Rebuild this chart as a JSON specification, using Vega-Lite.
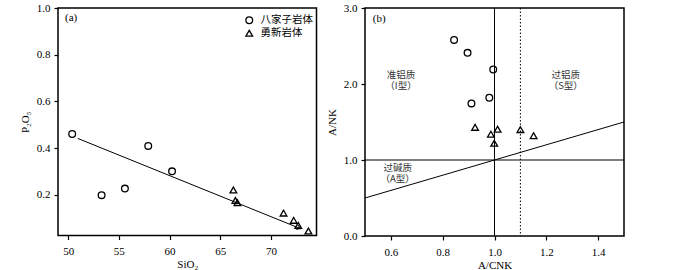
{
  "$schema": "https://vega.github.io/schema/vega-lite/v6.json",
  "background": "white",
  "padding": {"left": 18, "top": 1, "right": 5, "bottom": 0},
  "config": {
    "font": "Liberation Serif",
    "view": {"stroke": "black", "strokeWidth": 1.5},
    "axis": {"grid": false, "domain": false, "tickColor": "black", "tickSize": 4, "tickWidth": 1.2, "labelColor": "black", "labelFont": "Liberation Serif", "labelFontSize": 11, "titleFont": "Liberation Serif", "titleFontSize": 11, "titleFontWeight": "normal", "titleColor": "black", "labelPadding": 4},
    "axisX": {"labelPadding": 6, "titlePadding": 2},
    "axisY": {"titlePadding": 6}
  },
  "spacing": 48,
  "bounds": "flush",
  "resolve": {"scale": {"shape": "independent"}},
  "hconcat": [
    {
      "width": 258.5,
      "height": 227.5,
      "layer": [
        {
          "data": {"values": [{"x1": 50.95, "y1": 0.441, "x2": 72.95, "y2": 0.054}]},
          "mark": {"type": "rule", "color": "black", "strokeWidth": 1},
          "encoding": {
            "x": {"field": "x1", "type": "quantitative", "scale": {"domain": [49, 74.5], "nice": false, "zero": false}, "axis": {"values": [50, 55, 60, 65, 70], "title": "SiO₂"}},
            "y": {"field": "y1", "type": "quantitative", "scale": {"domain": [0.025, 1], "nice": false, "zero": false}, "axis": {"values": [0.2, 0.4, 0.6, 0.8, 1.0], "format": ".1f", "title": "P₂O₅"}},
            "x2": {"field": "x2"},
            "y2": {"field": "y2"}
          }
        },
        {
          "data": {"values": [{"x1": 50.95, "y1": 0.441, "x2": 72.95, "y2": 0.054}]},
          "mark": {"type": "point", "shape": "M -1 -0.55 L 0 0 L -1 0.55", "angle": 22, "filled": false, "stroke": "black", "strokeWidth": 1, "size": 70, "opacity": 1},
          "encoding": {
            "x": {"field": "x2", "type": "quantitative"},
            "y": {"field": "y2", "type": "quantitative"}
          }
        },
        {
          "data": {"values": [
            {"SiO2": 50.4, "P2O5": 0.46, "rock": "八家子岩体"},
            {"SiO2": 53.3, "P2O5": 0.198, "rock": "八家子岩体"},
            {"SiO2": 55.6, "P2O5": 0.226, "rock": "八家子岩体"},
            {"SiO2": 57.9, "P2O5": 0.409, "rock": "八家子岩体"},
            {"SiO2": 60.25, "P2O5": 0.30, "rock": "八家子岩体"},
            {"SiO2": 66.3, "P2O5": 0.22, "rock": "勇新岩体"},
            {"SiO2": 66.5, "P2O5": 0.175, "rock": "勇新岩体"},
            {"SiO2": 66.7, "P2O5": 0.166, "rock": "勇新岩体"},
            {"SiO2": 71.25, "P2O5": 0.121, "rock": "勇新岩体"},
            {"SiO2": 72.25, "P2O5": 0.09, "rock": "勇新岩体"},
            {"SiO2": 72.7, "P2O5": 0.068, "rock": "勇新岩体"},
            {"SiO2": 73.7, "P2O5": 0.044, "rock": "勇新岩体"}
          ]},
          "mark": {"type": "point", "filled": false, "stroke": "black", "strokeWidth": 1.3, "size": 45, "opacity": 1},
          "encoding": {
            "x": {"field": "SiO2", "type": "quantitative"},
            "y": {"field": "P2O5", "type": "quantitative"},
            "shape": {"field": "rock", "type": "nominal", "scale": {"domain": ["八家子岩体", "勇新岩体"], "range": ["circle", "triangle-up"]},
              "legend": {"title": null, "orient": "none", "legendX": 186, "legendY": 7, "padding": 0, "labelFont": "Noto Sans CJK SC", "labelFontSize": 10.5, "labelColor": "black", "symbolSize": 45, "symbolStrokeWidth": 1.3, "symbolStrokeColor": "black", "rowPadding": 0, "labelOffset": 6}}
          }
        },
        {
          "data": {"values": [{"x": 50.3, "y": 0.957, "label": "(a)"}]},
          "mark": {"type": "text", "font": "Liberation Serif", "fontSize": 11, "color": "black", "align": "center", "baseline": "middle"},
          "encoding": {
            "x": {"field": "x", "type": "quantitative"},
            "y": {"field": "y", "type": "quantitative"},
            "text": {"field": "label"}
          }
        }
      ]
    },
    {
      "width": 259,
      "height": 228,
      "layer": [
        {
          "data": {"values": [{"ACNK": 0.5, "ANK": 0.5, "ACNK2": 1.5, "ANK2": 1.5}]},
          "mark": {"type": "rule", "color": "black", "strokeWidth": 1},
          "encoding": {
            "x": {"field": "ACNK", "type": "quantitative", "scale": {"domain": [0.5, 1.5], "nice": false, "zero": false}, "axis": {"values": [0.6, 0.8, 1.0, 1.2, 1.4], "format": ".1f", "title": "A/CNK"}},
            "y": {"field": "ANK", "type": "quantitative", "scale": {"domain": [0, 3], "nice": false, "zero": false}, "axis": {"values": [0, 0.5, 1, 1.5, 2, 2.5, 3], "format": ".1f", "title": "A/NK"}},
            "x2": {"field": "ACNK2"},
            "y2": {"field": "ANK2"}
          }
        },
        {
          "data": {"values": [{"ACNK": 1.0}]},
          "mark": {"type": "rule", "color": "black", "strokeWidth": 1},
          "encoding": {"x": {"field": "ACNK", "type": "quantitative"}}
        },
        {
          "data": {"values": [{"ANK": 1.0}]},
          "mark": {"type": "rule", "color": "black", "strokeWidth": 1},
          "encoding": {"y": {"field": "ANK", "type": "quantitative"}}
        },
        {
          "data": {"values": [{"ACNK": 1.1}]},
          "mark": {"type": "rule", "color": "black", "strokeWidth": 1, "strokeDash": [1.5, 2]},
          "encoding": {"x": {"field": "ACNK", "type": "quantitative"}}
        },
        {
          "data": {"values": [
            {"ACNK": 0.844, "ANK": 2.58, "rock": "八家子岩体"},
            {"ACNK": 0.896, "ANK": 2.41, "rock": "八家子岩体"},
            {"ACNK": 0.995, "ANK": 2.19, "rock": "八家子岩体"},
            {"ACNK": 0.98, "ANK": 1.82, "rock": "八家子岩体"},
            {"ACNK": 0.911, "ANK": 1.745, "rock": "八家子岩体"},
            {"ACNK": 0.925, "ANK": 1.43, "rock": "勇新岩体"},
            {"ACNK": 0.986, "ANK": 1.34, "rock": "勇新岩体"},
            {"ACNK": 1.012, "ANK": 1.405, "rock": "勇新岩体"},
            {"ACNK": 0.999, "ANK": 1.22, "rock": "勇新岩体"},
            {"ACNK": 1.10, "ANK": 1.40, "rock": "勇新岩体"},
            {"ACNK": 1.151, "ANK": 1.32, "rock": "勇新岩体"}
          ]},
          "mark": {"type": "point", "filled": false, "stroke": "black", "strokeWidth": 1.3, "size": 45, "opacity": 1},
          "encoding": {
            "x": {"field": "ACNK", "type": "quantitative"},
            "y": {"field": "ANK", "type": "quantitative"},
            "shape": {"field": "rock", "type": "nominal", "scale": {"domain": ["八家子岩体", "勇新岩体"], "range": ["circle", "triangle-up"]}, "legend": null}
          }
        },
        {
          "data": {"values": [
            {"ACNK": 0.639, "ANK": 2.125, "label": "准铝质"},
            {"ACNK": 0.639, "ANK": 1.98, "label": "（I型）"},
            {"ACNK": 1.275, "ANK": 2.125, "label": "过铝质"},
            {"ACNK": 1.275, "ANK": 1.98, "label": "（S型）"},
            {"ACNK": 0.626, "ANK": 0.9, "label": "过碱质"},
            {"ACNK": 0.626, "ANK": 0.755, "label": "（A型）"}
          ]},
          "mark": {"type": "text", "font": "Noto Sans CJK SC", "fontSize": 9.5, "color": "#333333", "align": "center", "baseline": "middle"},
          "encoding": {
            "x": {"field": "ACNK", "type": "quantitative"},
            "y": {"field": "ANK", "type": "quantitative"},
            "text": {"field": "label"}
          }
        },
        {
          "data": {"values": [{"ACNK": 0.555, "ANK": 2.86, "label": "(b)"}]},
          "mark": {"type": "text", "font": "Liberation Serif", "fontSize": 11, "color": "black", "align": "center", "baseline": "middle"},
          "encoding": {
            "x": {"field": "ACNK", "type": "quantitative"},
            "y": {"field": "ANK", "type": "quantitative"},
            "text": {"field": "label"}
          }
        }
      ]
    }
  ]
}
